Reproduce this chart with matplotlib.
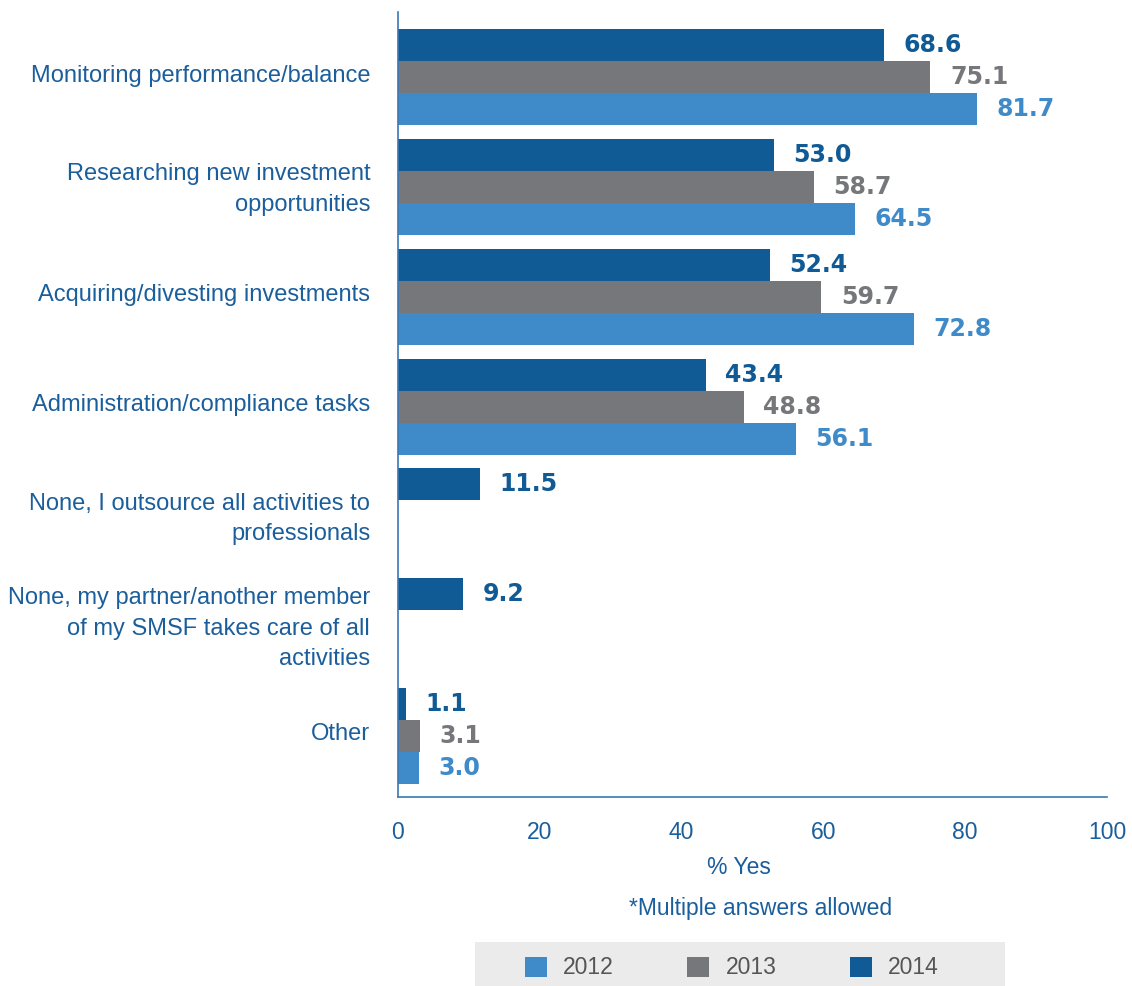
import numpy as np
import matplotlib.pyplot as plt
from matplotlib.patches import Rectangle

# survey answers, % yes per year
categories = [
    'Monitoring performance/balance',
    'Researching new investment\nopportunities',
    'Acquiring/divesting investments',
    'Administration/compliance tasks',
    'None, I outsource all activities to\nprofessionals',
    'None, my partner/another member\nof my SMSF takes care of all\nactivities',
    'Other',
]
years = ['2012', '2013', '2014']
vals_2012 = [81.7, 64.5, 72.8, 56.1, np.nan, np.nan, 3.0]
vals_2013 = [75.1, 58.7, 59.7, 48.8, np.nan, np.nan, 3.1]
vals_2014 = [68.6, 53.0, 52.4, 43.4, 11.5, 9.2, 1.1]
x_ticks = [0, 20, 40, 60, 80, 100]

c2012 = '#3f8ac9'
c2013 = '#76777b'
c2014 = '#105a96'
text_blue = '#1b5e9c'
axis_blue = '#3a78b5'

plt.rcParams['font.family'] = ['Liberation Sans', 'DejaVu Sans']

fig = plt.figure(figsize=(11.32, 9.86), dpi=100)
ax = fig.add_axes([398 / 1132, 1 - 797 / 986, (1107 - 398) / 1132, (797 - 12) / 986])

idx = np.arange(len(categories))
h = 0.2916

series = [(vals_2014, c2014, -h, '2014'), (vals_2013, c2013, 0.0, '2013'), (vals_2012, c2012, h, '2012')]
bars = {}
for vals, col, off, yr in series:
    bars[yr] = ax.barh(idx + off, vals, height=h, color=col, edgecolor='none', label=yr)
    for i, v in enumerate(vals):
        if np.isnan(v):
            continue
        ax.annotate(f'{v:.1f}', (v, idx[i] + off), xytext=(14, 0), textcoords='offset points',
                    ha='left', va='center', fontsize=17, fontweight='bold', color=col,
                    family='DejaVu Sans')

ax.set_xlim(0, 100)
ax.set_ylim(6.556, -0.596)
ax.set_xticks(x_ticks)
ax.set_xticklabels([str(t) for t in x_ticks])
# category labels sit a little above the middle of each group
ax.set_yticks(idx - 0.04)
ax.set_yticklabels(categories, linespacing=1.5)
ax.tick_params(axis='x', length=0, pad=17, labelsize=16.5, labelcolor=text_blue)
ax.tick_params(axis='y', length=0, pad=20, labelsize=17, labelcolor=text_blue)
for lbl in ax.get_yticklabels():
    lbl.set_ha('right')

for s in ['top', 'right']:
    ax.spines[s].set_visible(False)
for s in ['left', 'bottom']:
    ax.spines[s].set_color(axis_blue)
    ax.spines[s].set_linewidth(1.2)

fig.text(739 / 1132, 1 - 867 / 986, '% Yes', ha='center', va='center', fontsize=16.5, color=text_blue)
fig.text(761 / 1132, 1 - 909 / 986, '*Multiple answers allowed', ha='center', va='center',
         fontsize=16.5, color=text_blue)

# grey strip behind the legend
fig.patches.append(Rectangle((475 / 1132, 0), (1005 - 475) / 1132, 44 / 986,
                             transform=fig.transFigure, facecolor='#ebebeb', edgecolor='none', zorder=0))
leg = fig.legend([bars['2012'], bars['2013'], bars['2014']], years, ncol=3, frameon=False,
                 loc='center', bbox_to_anchor=(732 / 1132, 1 - 968 / 986),
                 fontsize=16.5, handlelength=0.95, handleheight=0.95, handletextpad=0.72,
                 columnspacing=3.2, labelcolor='#555555')

fig.savefig('out.png', dpi=100)
